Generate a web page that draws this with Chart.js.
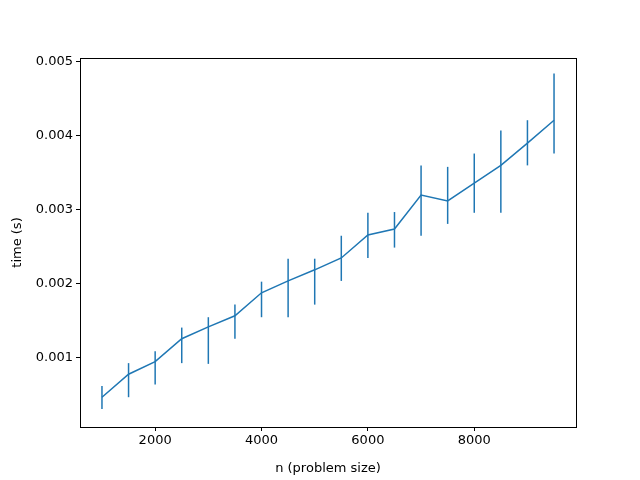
<!DOCTYPE html>
<html><head><script src="https://cdn.jsdelivr.net/npm/chart.js@4"></script>
<style>body{margin:0;background:#fff}#w{width:640px;height:480px}</style></head>
<body><div id="w"><canvas id="c"></canvas></div>
<script>
const nValues=[1000,1500,2000,2500,3000,3500,4000,4500,5000,5500,6000,6500,7000,7500,8000,8500,9000,9500];
const timeMean=[0.00047,0.00078,0.00095,0.00126,0.00142,0.00157,0.00188,0.00204,0.00219,0.00235,0.00266,0.00274,0.0032,0.00312,0.00336,0.0036,0.0039,0.00421];
const errHigh=[0.00062,0.00093,0.00109,0.00141,0.00155,0.00172,0.00203,0.00234,0.00234,0.00265,0.00296,0.00297,0.0036,0.00358,0.00376,0.00407,0.00421,0.00484];
const errLow=[0.00031,0.00047,0.00064,0.00093,0.00092,0.00126,0.00155,0.00155,0.00172,0.00204,0.00235,0.00249,0.00265,0.00281,0.00296,0.00296,0.0036,0.00376];
const xTicks=[2000,4000,6000,8000];
const yTicks=[0.001,0.002,0.003,0.004,0.005];
const color='#1f77b4';
const errPlugin={id:'err',afterDatasetsDraw(ch){const c=ch.ctx,x=ch.scales.x,y=ch.scales.y;c.save();c.strokeStyle=color;c.lineWidth=1.5;
nValues.forEach((n,i)=>{const px=x.getPixelForValue(n);c.beginPath();c.moveTo(px,y.getPixelForValue(errLow[i]));c.lineTo(px,y.getPixelForValue(errHigh[i]));c.stroke();});
const a=ch.chartArea;c.strokeStyle='#000';c.lineWidth=1;c.strokeRect(a.left+.5,a.top+.5,a.right-a.left,a.bottom-a.top);c.restore();}};
const font={family:'DejaVu Sans',size:13};
const grid={display:true,drawOnChartArea:false,drawTicks:true,tickLength:4,color:'#000'};
new Chart(document.getElementById('c'),{type:'line',
data:{datasets:[{data:nValues.map((n,i)=>({x:n,y:timeMean[i]})),borderColor:color,borderWidth:1.5,pointRadius:0,tension:0}]},
options:{responsive:true,maintainAspectRatio:false,animation:false,layout:{padding:{top:58,right:64,left:6,bottom:0}},
plugins:{legend:{display:false},tooltip:{enabled:false}},
scales:{x:{type:'linear',min:587,max:9913,grid,border:{display:false},
afterBuildTicks:s=>{s.ticks=xTicks.map(v=>({value:v}))},
ticks:{color:'#000',font,maxRotation:0,padding:2,callback:v=>String(v)},
title:{display:true,text:'n (problem size)',color:'#000',font,padding:{top:0}},afterFit:s=>{s.height=53}},
y:{type:'linear',min:0.0000676,max:0.00505,grid,border:{display:false},
afterBuildTicks:s=>{s.ticks=yTicks.map(v=>({value:v}))},
ticks:{color:'#000',font,padding:3,callback:v=>v.toFixed(3)},
title:{display:true,text:'time (s)',color:'#000',font,padding:{bottom:2}},afterFit:s=>{s.width=74}}}},
plugins:[errPlugin]});
</script></body></html>
